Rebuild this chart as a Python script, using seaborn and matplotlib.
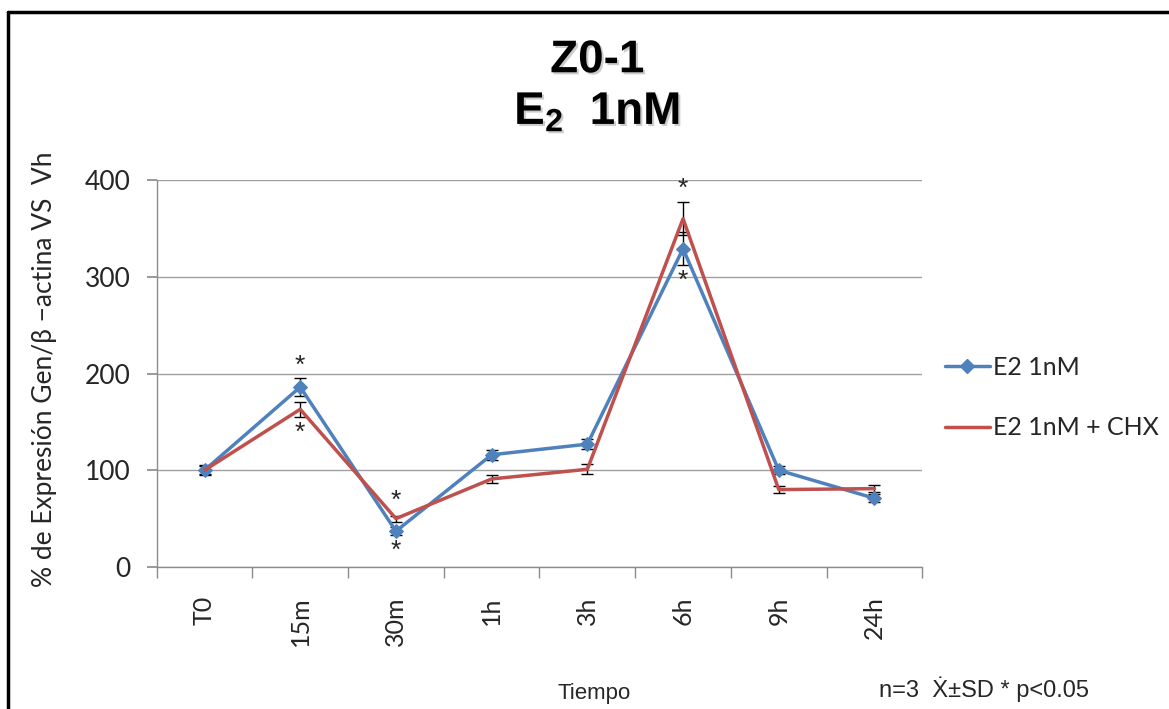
import pandas as pd
import matplotlib.pyplot as plt
import matplotlib.patheffects as pe
import seaborn as sns
from matplotlib.lines import Line2D

# Data
tiempos = ['T0', '15m', '30m', '1h', '3h', '6h', '9h', '24h']
e2 = [100, 186, 37, 116, 127, 329, 100, 71]
e2_sd = [5, 9, 4, 5, 5, 17, 4, 4]
e2_chx = [100, 163, 50, 91, 101, 360, 80, 81]
e2_chx_sd = [4, 8, 3, 4, 5, 17, 4, 4]

# asterisks: (category index, value, above?)
stars = [(1, 195, True), (1, 155, False), (2, 55, True), (2, 33, False),
         (5, 377, True), (5, 312, False)]

label_a = 'E2 1nM'
label_b = 'E2 1nM + CHX'
blue = '#4F81BD'
red = '#C0504D'

df_a = pd.DataFrame({'Tiempo': tiempos, 'valor': e2})
df_b = pd.DataFrame({'Tiempo': tiempos, 'valor': e2_chx})

sns.set_theme(style="white")
plt.rcParams['font.family'] = ['Liberation Sans', 'DejaVu Sans']
plt.rcParams['mathtext.fontset'] = 'custom'
plt.rcParams['mathtext.bf'] = 'Liberation Sans:bold'
plt.rcParams['mathtext.rm'] = 'Liberation Sans'

fig = plt.figure(figsize=(11.69, 7.09), dpi=100)
ax = fig.add_axes([0.134, 0.2003, 0.655, 0.5458])

sns.lineplot(data=df_a, x='Tiempo', y='valor', color=blue, marker='D',
             markersize=7, markeredgecolor=blue, linewidth=2.5, ax=ax, sort=False, zorder=3)
sns.lineplot(data=df_b, x='Tiempo', y='valor', color=red,
             linewidth=2.5, ax=ax, sort=False, zorder=4)

xs = list(range(len(tiempos)))
ax.errorbar(xs, e2, yerr=e2_sd, fmt='none', ecolor='black', elinewidth=1,
            capsize=4, capthick=1, zorder=2)
ax.errorbar(xs, e2_chx, yerr=e2_chx_sd, fmt='none', ecolor='black', elinewidth=1,
            capsize=4, capthick=1, zorder=2)

for i, v, above in stars:
    ax.text(i, v + (1 if above else -4), '*', ha='center',
            va='bottom' if above else 'top', fontsize=19)

ax.set_xlim(-0.5, 7.5)
ax.set_ylim(0, 400)
ax.set_yticks([0, 100, 200, 300, 400])
ax.yaxis.grid(True, color='#a0a0a0', linewidth=1)
ax.set_axisbelow(True)
for s in ['top', 'right']:
    ax.spines[s].set_visible(False)
for s in ['left', 'bottom']:
    ax.spines[s].set_color('#8c8c8c')
    ax.spines[s].set_linewidth(1)

ax.set_xticks(xs)
ax.set_xticklabels(tiempos, rotation=90, fontsize=18, family='Lato')
ax.tick_params(axis='x', length=0, pad=21)
ax.set_xticks([x - 0.5 for x in range(len(tiempos) + 1)], minor=True)
ax.tick_params(axis='x', which='minor', direction='out', length=8, color='#8c8c8c', bottom=True)
ax.tick_params(axis='y', labelsize=19, direction='out', length=7, color='#8c8c8c', left=True, pad=12)
for t in ax.get_yticklabels():
    t.set_family('Lato')

ax.set_xlabel('')
ax.set_ylabel('% de Expresión Gen/β −actina VS  Vh', fontsize=19, family=['Lato', 'DejaVu Sans'])
ax.yaxis.set_label_coords(-0.13, 0.51)

shadow = [pe.withSimplePatchShadow(offset=(1.5, -1.5), alpha=0.2)]
fig.text(0.511, 0.915, 'Z0-1', ha='center', va='center', fontsize=33, fontweight='bold',
         color='black', path_effects=shadow)
fig.text(0.511, 0.842, r'$\mathbf{E_2}$  1nM', ha='center', va='center', fontsize=33,
         fontweight='bold', color='black', path_effects=shadow)

handles = [Line2D([], [], color=blue, marker='D', markersize=7, linewidth=2.5),
           Line2D([], [], color=red, linewidth=2.5)]
fig.legend(handles, [label_a, label_b], loc='center left',
           bbox_to_anchor=(0.808, 0.439), frameon=False, labelspacing=1.5,
           handlelength=1.8, handletextpad=0.12, borderpad=0, borderaxespad=0,
           prop={'family': 'Lato', 'size': 18})

fig.text(0.508, 0.022, 'Tiempo', ha='center', va='center', fontsize=16)
fig.text(0.842, 0.028, 'n=3  Ẋ±SD * p<0.05', ha='center', va='center', fontsize=17)

# frame around figure (top and left visible)
fig.add_artist(Line2D([0.007, 1.0], [0.983, 0.983], transform=fig.transFigure,
                      color='black', linewidth=2.5))
fig.add_artist(Line2D([0.007, 0.007], [0.0, 0.983], transform=fig.transFigure,
                      color='black', linewidth=2.5))

fig.savefig('out.png', dpi=100)
